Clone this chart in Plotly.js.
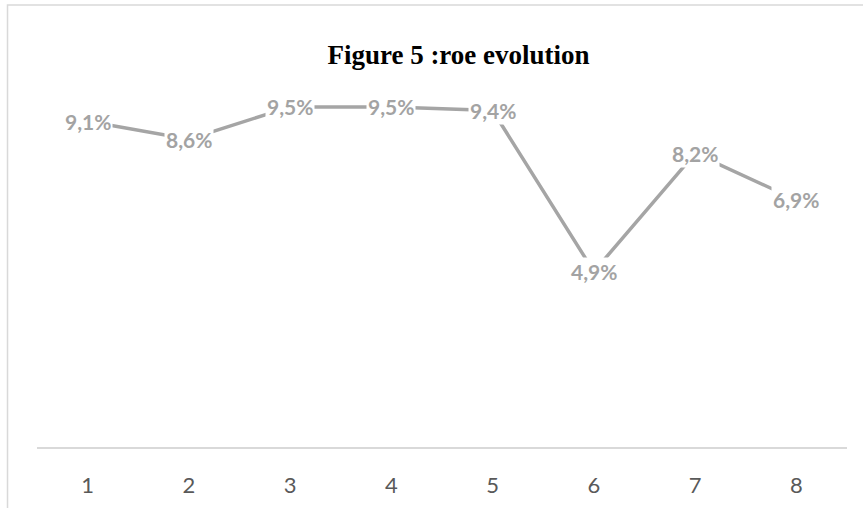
<!DOCTYPE html>
<html>
<head>
<meta charset="utf-8">
<script src="https://cdn.plot.ly/plotly-3.0.1.min.js"></script>
<style>
html,body{margin:0;padding:0;background:#fff;}
#chart{width:863px;height:508px;}
</style>
</head>
<body>
<div id="chart"></div>
<script>
const categories = [1, 2, 3, 4, 5, 6, 7, 8];
const roeValues = [9.1, 8.6, 9.5, 9.5, 9.4, 4.9, 8.2, 6.9];
const tickLabels = ['1', '2', '3', '4', '5', '6', '7', '8'];
const chartTitle = 'Figure 5 :roe evolution';

const fmt = v => v.toFixed(1).replace('.', ',') + '%';

const trace = {
  x: categories,
  y: roeValues,
  type: 'scatter',
  mode: 'lines',
  line: {color: '#a5a5a5', width: 3.5},
  cliponaxis: false,
  hoverinfo: 'skip'
};

const annotations = categories.map((c, i) => ({
  x: c, y: roeValues[i], xref: 'x', yref: 'y',
  text: '<b>' + fmt(roeValues[i]) + '</b>',
  showarrow: false,
  xanchor: 'center', yanchor: 'middle',
  bgcolor: '#ffffff',
  borderpad: 1,
  font: {family: 'Lato, "Open Sans", sans-serif', size: 21, color: '#a3a3a3'}
}));

const layout = {
  width: 863, height: 508,
  margin: {l: 37, r: 16, t: 89, b: 61},
  paper_bgcolor: '#ffffff', plot_bgcolor: '#ffffff',
  showlegend: false,
  title: {
    text: '<b>' + chartTitle + '</b>',
    font: {family: '"Liberation Serif", "Times New Roman", serif', size: 27, color: '#000000'},
    xref: 'container', yref: 'container',
    x: 0.5313, y: 0.8917, xanchor: 'center', yanchor: 'middle'
  },
  xaxis: {
    type: 'linear',
    range: [0.5, 8.5],
    tickmode: 'array', tickvals: categories, ticktext: tickLabels,
    showline: true, linecolor: '#d9d9d9', linewidth: 1.5,
    showgrid: false, zeroline: false, ticks: '',
    ticklabelstandoff: 18,
    tickfont: {family: 'Lato, "Open Sans", sans-serif', size: 22, color: '#595959'},
    fixedrange: true
  },
  yaxis: {
    range: [0, 10],
    visible: false, showgrid: false, zeroline: false,
    fixedrange: true
  },
  annotations: annotations,
  shapes: [{
    type: 'rect', xref: 'paper', yref: 'paper',
    x0: -0.0364, x1: 1.5, y0: -0.5, y1: 1.2346,
    line: {color: '#d9d9d9', width: 1.5}, fillcolor: 'rgba(0,0,0,0)', layer: 'below'
  }]
};

Plotly.newPlot('chart', [trace], layout, {displayModeBar: false, staticPlot: true});
</script>
</body>
</html>
